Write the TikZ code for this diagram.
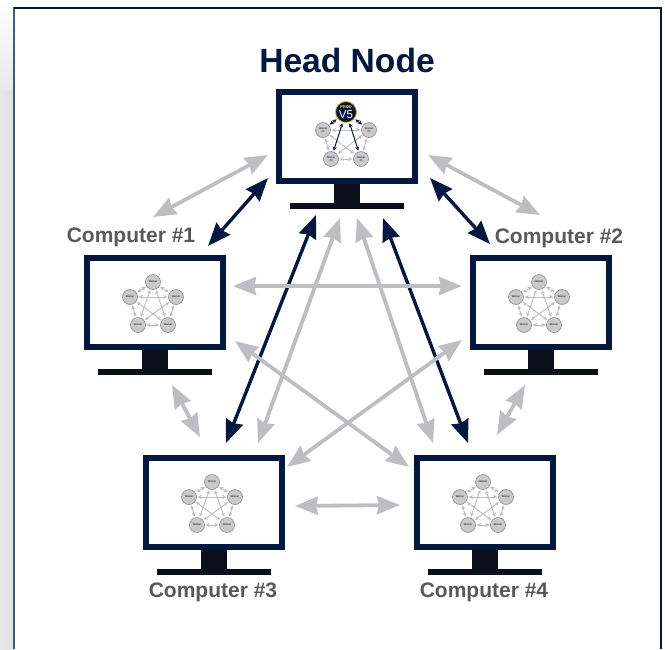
\documentclass[tikz,border=0pt]{standalone}
\usepackage{fontspec}
\setmainfont{Liberation Sans}
\usetikzlibrary{positioning,arrows.meta}
\definecolor{navy}{HTML}{04173F}
\definecolor{framecolor}{HTML}{45587A}
\definecolor{linkgray}{HTML}{BDBEC2}
\definecolor{labelgray}{HTML}{58595B}
\definecolor{standblack}{HTML}{0A0F1A}
\definecolor{workerfill}{HTML}{C9C9CB}
\newcommand{\minigraph}[1]{%
    \node[worker] (#1w1) at ([shift={(-2,-20)}]#1.center) {Worker};
    \node[worker] (#1w2) at ([shift={(21,-5)}]#1.center) {Worker};
    \node[worker] (#1w3) at ([shift={(13,23)}]#1.center) {Worker};
    \node[worker] (#1w4) at ([shift={(-17,23)}]#1.center) {Worker};
    \node[worker] (#1w5) at ([shift={(-25,-5)}]#1.center) {Worker};
    \draw[minilink] (#1w1) -- (#1w2);
    \draw[minilink] (#1w1) -- (#1w3);
    \draw[minilink] (#1w1) -- (#1w4);
    \draw[minilink] (#1w1) -- (#1w5);
    \draw[minilink] (#1w2) -- (#1w3);
    \draw[minilink] (#1w2) -- (#1w4);
    \draw[minilink] (#1w2) -- (#1w5);
    \draw[minilink] (#1w3) -- (#1w4);
    \draw[minilink] (#1w3) -- (#1w5);
    \draw[minilink] (#1w4) -- (#1w5);
}
\newcommand{\computer}[2]{%
    \node[stand, minimum width=26pt, minimum height=20pt] (#1stand) at ([shift={(0,57)}]#2) {};
    \node[stand, minimum width=114pt, minimum height=6pt] (#1base) at ([shift={(0,69.5)}]#2) {};
    \node[screen] (#1) at (#2) {};
}
\begin{document}
\begin{tikzpicture}[
    x = 1pt,
    y = -1pt,
    > = {Stealth[length=23pt, width=18pt, inset=2pt]},
    screen/.style={rectangle, draw=navy, line width=6pt, fill=white, minimum width=136pt, minimum height=89pt, inner sep=0pt},
    stand/.style={rectangle, fill=standblack, inner sep=0pt},
    worker/.style={circle, draw=gray, fill=workerfill, line width=0.5pt, minimum size=15pt, inner sep=0pt, align=center, font=\fontsize{2.6}{2.8}\selectfont},
    minilink/.style={<->, >={Stealth[length=4pt, width=4pt]}, draw=linkgray, line width=0.9pt, shorten >=1pt, shorten <=1pt},
    headlink/.style={minilink, draw=navy, line width=1pt},
    graylink/.style={<->, draw=linkgray, line width=3.8pt},
    navylink/.style={<->, draw=navy, line width=3.4pt},
    complabel/.style={font=\bfseries\fontsize{21}{24}\selectfont, text=labelgray}
]
    \useasboundingbox (0,0) rectangle (665,649);
    \shade[top color=white, bottom color=black!9] (0,0) rectangle (14,90);
    \shade[left color=black!9, right color=black!12] (0,90) rectangle (14,649);
    \fill[white] (14,8) rectangle (661,649);
    \draw[framecolor, line width=1.8pt] (14,649) -- (14,8) -- (661,8);
    \draw[navy, line width=1.5pt] (14,8) -- (661,8) -- (661,649);

    % monitors
    \computer{head}{347,136}
    \computer{comp1}{155,302}
    \computer{comp2}{541,302}
    \computer{comp3}{214,502}
    \computer{comp4}{485,502}

    % labels
    \node[font=\bfseries\fontsize{33.6}{38}\selectfont, text=navy] (title) at (347,60) {Head Node};
    \node[complabel] (label1) at (131,237) {Computer \#1};
    \node[complabel] (label2) at (559,238) {Computer \#2};
    \node[complabel] (label3) at (213,592) {Computer \#3};
    \node[complabel] (label4) at (484,592) {Computer \#4};

    % small graphs
    \minigraph{comp1}
    \minigraph{comp2}
    \minigraph{comp3}
    \minigraph{comp4}

    \node[worker] (headw1) at ([shift={(22,-6)}]head.center) {Worker\\\#2};
    \node[worker] (headw2) at ([shift={(14,23)}]head.center) {Worker\\\#4};
    \node[worker] (headw3) at ([shift={(-16,23)}]head.center) {Worker\\\#3};
    \node[worker] (headw4) at ([shift={(-24,-6)}]head.center) {Worker\\\#1};
    \node[circle, draw={rgb,255:red,214;green,178;blue,40}, fill=navy, line width=0.8pt, minimum size=21pt, inner sep=0pt, align=center, text=white, font=\fontsize{11.5}{11.5}\selectfont] (prod) at ([shift={(-1,-24)}]head.center) {\textcolor{yellow}{\fontsize{4}{4}\selectfont\bfseries PROD}\\[-1.5pt]V5};
    \draw[minilink] (headw1) -- (headw2);
    \draw[minilink] (headw1) -- (headw3);
    \draw[minilink] (headw1) -- (headw4);
    \draw[minilink] (headw2) -- (headw3);
    \draw[minilink] (headw2) -- (headw4);
    \draw[minilink] (headw3) -- (headw4);
    \draw[headlink] (prod) -- (headw1);
    \draw[headlink] (prod) -- (headw2);
    \draw[headlink] (prod) -- (headw3);
    \draw[headlink] (prod) -- (headw4);

    % links
    \draw[graylink] ([shift={(-79,19)}]head.center) -- ([shift={(-2,-85)}]comp1.center);
    \draw[navylink] ([shift={(-79,42)}]head.center) -- ([shift={(53,-56)}]comp1.center);
    \draw[graylink] ([shift={(81,19)}]head.center) -- ([shift={(-1,-87)}]comp2.center);
    \draw[navylink] ([shift={(83,42)}]head.center) -- ([shift={(-51,-58)}]comp2.center);
    \draw[navylink] ([shift={(-31,79)}]head.center) -- ([shift={(12,-59)}]comp3.center);
    \draw[graylink] ([shift={(-7,82)}]head.center) -- ([shift={(44,-59)}]comp3.center);
    \draw[navylink] ([shift={(36,82)}]head.center) -- ([shift={(-17,-59)}]comp4.center);
    \draw[graylink] ([shift={(10,82)}]head.center) -- ([shift={(-52,-59)}]comp4.center);
    \draw[graylink] ([shift={(78,-16)}]comp1.center) -- ([shift={(-79,-16)}]comp2.center);
    \draw[graylink] ([shift={(80,39)}]comp1.center) -- ([shift={(-76,-35)}]comp4.center);
    \draw[graylink] ([shift={(-79,38)}]comp2.center) -- ([shift={(73,-35)}]comp3.center);
    \draw[graylink] ([shift={(17,83)}]comp1.center) -- ([shift={(-14,-65)}]comp3.center);
    \draw[graylink] ([shift={(-16,83)}]comp2.center) -- ([shift={(12,-67)}]comp4.center);
    \draw[graylink] ([shift={(81,4)}]comp3.center) -- ([shift={(-85,3)}]comp4.center);
\end{tikzpicture}
\end{document}
